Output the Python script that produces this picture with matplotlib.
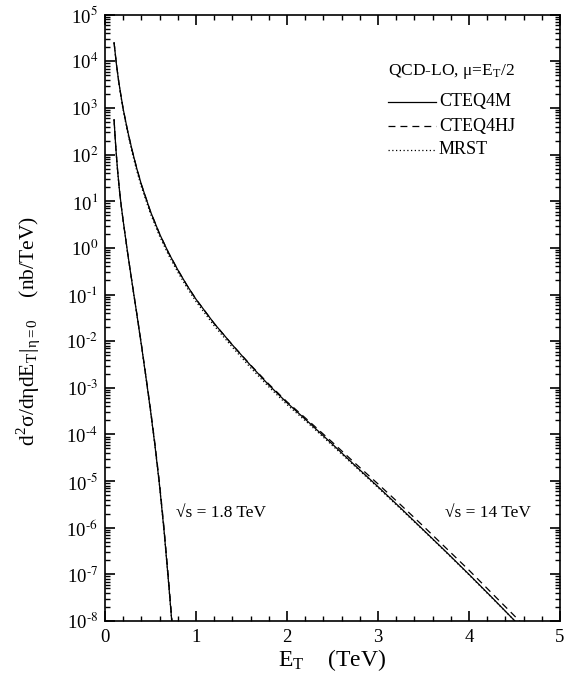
import numpy as np
import matplotlib
matplotlib.use("Agg")
import matplotlib.pyplot as plt
from matplotlib.ticker import LogLocator, MultipleLocator, NullFormatter, FuncFormatter

plt.rcParams['font.family'] = ['Liberation Serif', 'DejaVu Serif']
plt.rcParams['mathtext.fontset'] = 'stix'
plt.rcParams['axes.unicode_minus'] = False
plt.rcParams['lines.scale_dashes'] = False

# Jet E_T (TeV) and log10 of d2sigma/deta dE_T (nb/TeV), sqrt(s) = 14 TeV
et_14 = [0.10, 0.125, 0.15, 0.175, 0.20, 0.25, 0.30, 0.35, 0.40, 0.50, 0.60, 0.70,
         0.80, 0.90, 1.00, 1.20, 1.40, 1.60, 1.80, 2.00, 2.25, 2.50, 2.75, 3.00,
         3.25, 3.50, 3.75, 4.00, 4.25, 4.50, 4.60]
lg_14_cteq4m = [4.40, 3.95, 3.58, 3.27, 2.98, 2.50, 2.08, 1.70, 1.36, 0.78, 0.30, -0.11,
                -0.47, -0.80, -1.10, -1.62, -2.08, -2.52, -2.94, -3.32, -3.76, -4.21, -4.67, -5.12,
                -5.58, -6.05, -6.52, -7.00, -7.49, -7.99, -8.19]
lg_14_cteq4hj = [4.40, 3.95, 3.58, 3.27, 2.98, 2.50, 2.08, 1.70, 1.36, 0.78, 0.30, -0.11,
                 -0.47, -0.80, -1.10, -1.62, -2.08, -2.51, -2.92, -3.30, -3.73, -4.17, -4.62, -5.06,
                 -5.51, -5.97, -6.44, -6.91, -7.40, -7.89, -8.09]
lg_14_mrst = [4.40, 3.95, 3.57, 3.25, 2.95, 2.46, 2.03, 1.65, 1.31, 0.73, 0.25, -0.16,
              -0.52, -0.85, -1.15, -1.67, -2.13, -2.57, -2.98, -3.36, -3.79, -4.24, -4.69, -5.14,
              -5.60, -6.06, -6.53, -7.01, -7.50, -7.99, -8.19]

# sqrt(s) = 1.8 TeV
et_18 = [0.10, 0.11, 0.12, 0.13, 0.14, 0.16, 0.18, 0.20, 0.25, 0.30, 0.35, 0.40,
         0.45, 0.50, 0.55, 0.60, 0.65, 0.70, 0.74]
lg_18_cteq4m = [2.75, 2.42, 2.13, 1.87, 1.63, 1.22, 0.88, 0.58, -0.12, -0.78, -1.42, -2.08,
                -2.77, -3.48, -4.25, -5.10, -6.08, -7.20, -8.15]
lg_18_cteq4hj = [2.75, 2.42, 2.13, 1.87, 1.63, 1.22, 0.88, 0.58, -0.12, -0.77, -1.41, -2.06,
                 -2.75, -3.45, -4.21, -5.05, -6.02, -7.13, -8.07]
lg_18_mrst = [2.75, 2.41, 2.12, 1.86, 1.62, 1.21, 0.87, 0.57, -0.13, -0.79, -1.43, -2.09,
              -2.78, -3.49, -4.26, -5.11, -6.09, -7.21, -8.16]

pdf_names = ['CTEQ4M', 'CTEQ4HJ', 'MRST']
sqrt_s_labels = ['√s = 1.8 TeV', '√s = 14 TeV']

styles = {
    'CTEQ4M': dict(linestyle='-'),
    'CTEQ4HJ': dict(linestyle=(0, (5.0, 3.6))),
    'MRST': dict(linestyle=(0, (0.9, 1.8))),
}


def decade_label(v, pos):
    e = int(round(np.log10(v)))
    exp = r'\text{-}%d' % (-e) if e < 0 else '%d' % e
    return r'10$^{%s}$' % exp


fig = plt.figure(figsize=(5.65, 6.93), dpi=100)
ax = fig.add_axes([0.1858, 0.1039, 0.8053, 0.8749])

for et, curves in [(et_18, [lg_18_cteq4m, lg_18_cteq4hj, lg_18_mrst]),
                   (et_14, [lg_14_cteq4m, lg_14_cteq4hj, lg_14_mrst])]:
    for name, lg in zip(pdf_names, curves):
        ax.plot(et, 10.0 ** np.asarray(lg), color='black', lw=0.9, **styles[name])

ax.set_yscale('log')
ax.set_xlim(0, 5)
ax.set_ylim(1e-8, 1e5)

ax.xaxis.set_major_locator(MultipleLocator(1))
ax.xaxis.set_minor_locator(MultipleLocator(0.2))
ax.yaxis.set_major_locator(LogLocator(base=10, numticks=30))
ax.yaxis.set_minor_locator(LogLocator(base=10, subs=np.arange(2, 10), numticks=300))
ax.yaxis.set_minor_formatter(NullFormatter())
ax.yaxis.set_major_formatter(FuncFormatter(decade_label))

ax.tick_params(which='both', direction='in', top=True, right=True, width=1.0)
ax.tick_params(which='major', length=7, width=1.2)
ax.tick_params(which='minor', length=3.6)
ax.tick_params(axis='y', which='major', labelsize=13.5, pad=5)
ax.tick_params(axis='x', which='major', labelsize=13.5, pad=6)
for sp in ax.spines.values():
    sp.set_linewidth(1.2)

# Legend block drawn in axes coordinates
ax.text(0.622, 0.9055, r'QCD-LO, μ=E$_\mathregular{T}$/2', transform=ax.transAxes,
        fontsize=12.5, va='center', ha='left')
leg_y = [0.8565, 0.816, 0.777]
for name, yy in zip(pdf_names, leg_y):
    ax.plot([0.622, 0.727], [yy, yy], transform=ax.transAxes, color='black', lw=0.9,
            **styles[name])
    ax.text(0.734, yy, name, transform=ax.transAxes, fontsize=13, va='center', ha='left')

ax.text(0.78, 10 ** -5.68, sqrt_s_labels[0], fontsize=12.5, va='center', ha='left')
ax.text(3.74, 10 ** -5.68, sqrt_s_labels[1], fontsize=12.5, va='center', ha='left')

fig.text(0.588, 0.047, r'E$_\mathregular{T}$    (TeV)', fontsize=17, ha='center', va='center')
fig.text(0.05, 0.523, r'd$^\mathregular{2}$σ/dηdE$_\mathregular{T}$|$_{\mathregular{η=0}}$    (nb/TeV)',
         fontsize=15.5, rotation=90, ha='center', va='center')

fig.savefig('out.png', dpi=100)
